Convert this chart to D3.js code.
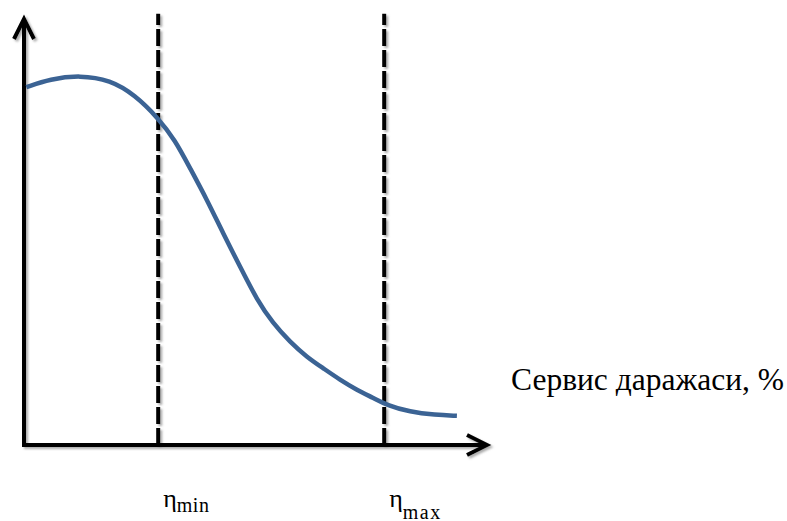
<!DOCTYPE html>
<html>
<head>
<meta charset="utf-8">
<script src="https://cdn.jsdelivr.net/npm/d3@7"></script>
<style>
  body { margin: 0; background: #fff; }
  #chart { width: 787px; height: 521px; }
</style>
</head>
<body>
<div id="chart"></div>
<script>
// curve: service level (x, %) vs cost (y, relative units)
const curveX = [0.5, 5.6, 12.0, 18.5, 23.8, 28.8, 32.4, 35.6, 39.3, 42.7, 46.4, 50.0,
                53.4, 57.1, 60.7, 64.2, 67.8, 71.5, 74.9, 77.9, 82.8, 88.2, 92.9];
const curveY = [83.4, 85.3, 86.2, 85.1, 81.6, 76.2, 71.1, 64.6, 57.1, 49.4, 41.5, 33.8,
                28.4, 24.0, 20.5, 17.9, 15.2, 12.8, 11.0, 9.3, 7.7, 7.0, 6.8];

// vertical dashed bounds
const boundNames = ["min", "max"];
const boundX = [28.8, 77.3];
const boundTop = 100.5;

const xTitle = "Сервис даражаси, %";

const width = 787, height = 521;
const serif = "'Liberation Serif', 'Times New Roman', 'DejaVu Serif', serif";

const svg = d3.select("#chart").append("svg")
    .attr("width", width)
    .attr("height", height)
    .style("font-family", serif);

const x = d3.scaleLinear().domain([0, 100]).range([24, 490]);
const y = d3.scaleLinear().domain([0, 100]).range([445, 16]);

// soft office-style shadow (user space so thin vertical lines still render)
const defs = svg.append("defs");
defs.append("filter")
    .attr("id", "shadow")
    .attr("filterUnits", "userSpaceOnUse")
    .attr("x", 0).attr("y", 0)
    .attr("width", width).attr("height", height)
    .append("feDropShadow")
    .attr("dx", 2).attr("dy", 2)
    .attr("stdDeviation", 1)
    .attr("flood-color", "#777")
    .attr("flood-opacity", 0.6);

const data = curveX.map((d, i) => ({x: d, y: curveY[i]}));
const bounds = boundX.map((d, i) => ({x: d, name: boundNames[i]}));

// dashed lines
svg.selectAll(".bound")
    .data(bounds)
    .enter()
    .append("line")
    .attr("class", "bound")
    .attr("x1", d => x(d.x))
    .attr("x2", d => x(d.x))
    .attr("y1", y(0))
    .attr("y2", y(boundTop))
    .attr("stroke", "#000")
    .attr("stroke-width", 4)
    .attr("stroke-dasharray", "17,4")
    .attr("filter", "url(#shadow)");

// axes with open arrowheads
const axisG = svg.append("g")
    .attr("class", "axes")
    .attr("filter", "url(#shadow)")
    .attr("fill", "none")
    .attr("stroke", "#000")
    .attr("stroke-width", 4);

const x0 = x(0), y0 = y(0);
const xEnd = x.range()[1] - 3, yEnd = y.range()[1] + 3;

axisG.append("line")
    .attr("x1", x0 - 2).attr("y1", y0)
    .attr("x2", xEnd).attr("y2", y0);
axisG.append("line")
    .attr("x1", x0).attr("y1", y0 + 2)
    .attr("x2", x0).attr("y2", yEnd);

axisG.append("path")
    .attr("stroke-linejoin", "miter")
    .attr("d", `M${xEnd - 20},${y0 - 10}L${xEnd},${y0}L${xEnd - 20},${y0 + 10}`);
axisG.append("path")
    .attr("stroke-linejoin", "miter")
    .attr("d", `M${x0 - 10},${yEnd + 20}L${x0},${yEnd}L${x0 + 10},${yEnd + 20}`);

// the curve
const line = d3.line()
    .x(d => x(d.x))
    .y(d => y(d.y))
    .curve(d3.curveBasis);

svg.append("path")
    .datum(data)
    .attr("class", "curve")
    .attr("fill", "none")
    .attr("stroke", "#3b6394")
    .attr("stroke-width", 4.5)
    .attr("d", line);

// axis title
svg.append("text")
    .attr("x", 511)
    .attr("y", 390)
    .style("font-family", serif)
    .style("font-size", "31.5px")
    .text(xTitle);

// eta labels
const etaLabels = svg.selectAll(".eta")
    .data(bounds)
    .enter()
    .append("text")
    .attr("class", "eta")
    .attr("x", d => x(d.x) + 5)
    .attr("y", 507)
    .style("font-family", serif);

etaLabels.append("tspan")
    .style("font-size", "26px")
    .text("η");

etaLabels.append("tspan")
    .style("font-size", "20px")
    .attr("dy", (d, i) => i === 0 ? 5 : 12)
    .attr("letter-spacing", (d, i) => i === 0 ? 0.5 : 1.5)
    .text(d => d.name);
</script>
</body>
</html>
